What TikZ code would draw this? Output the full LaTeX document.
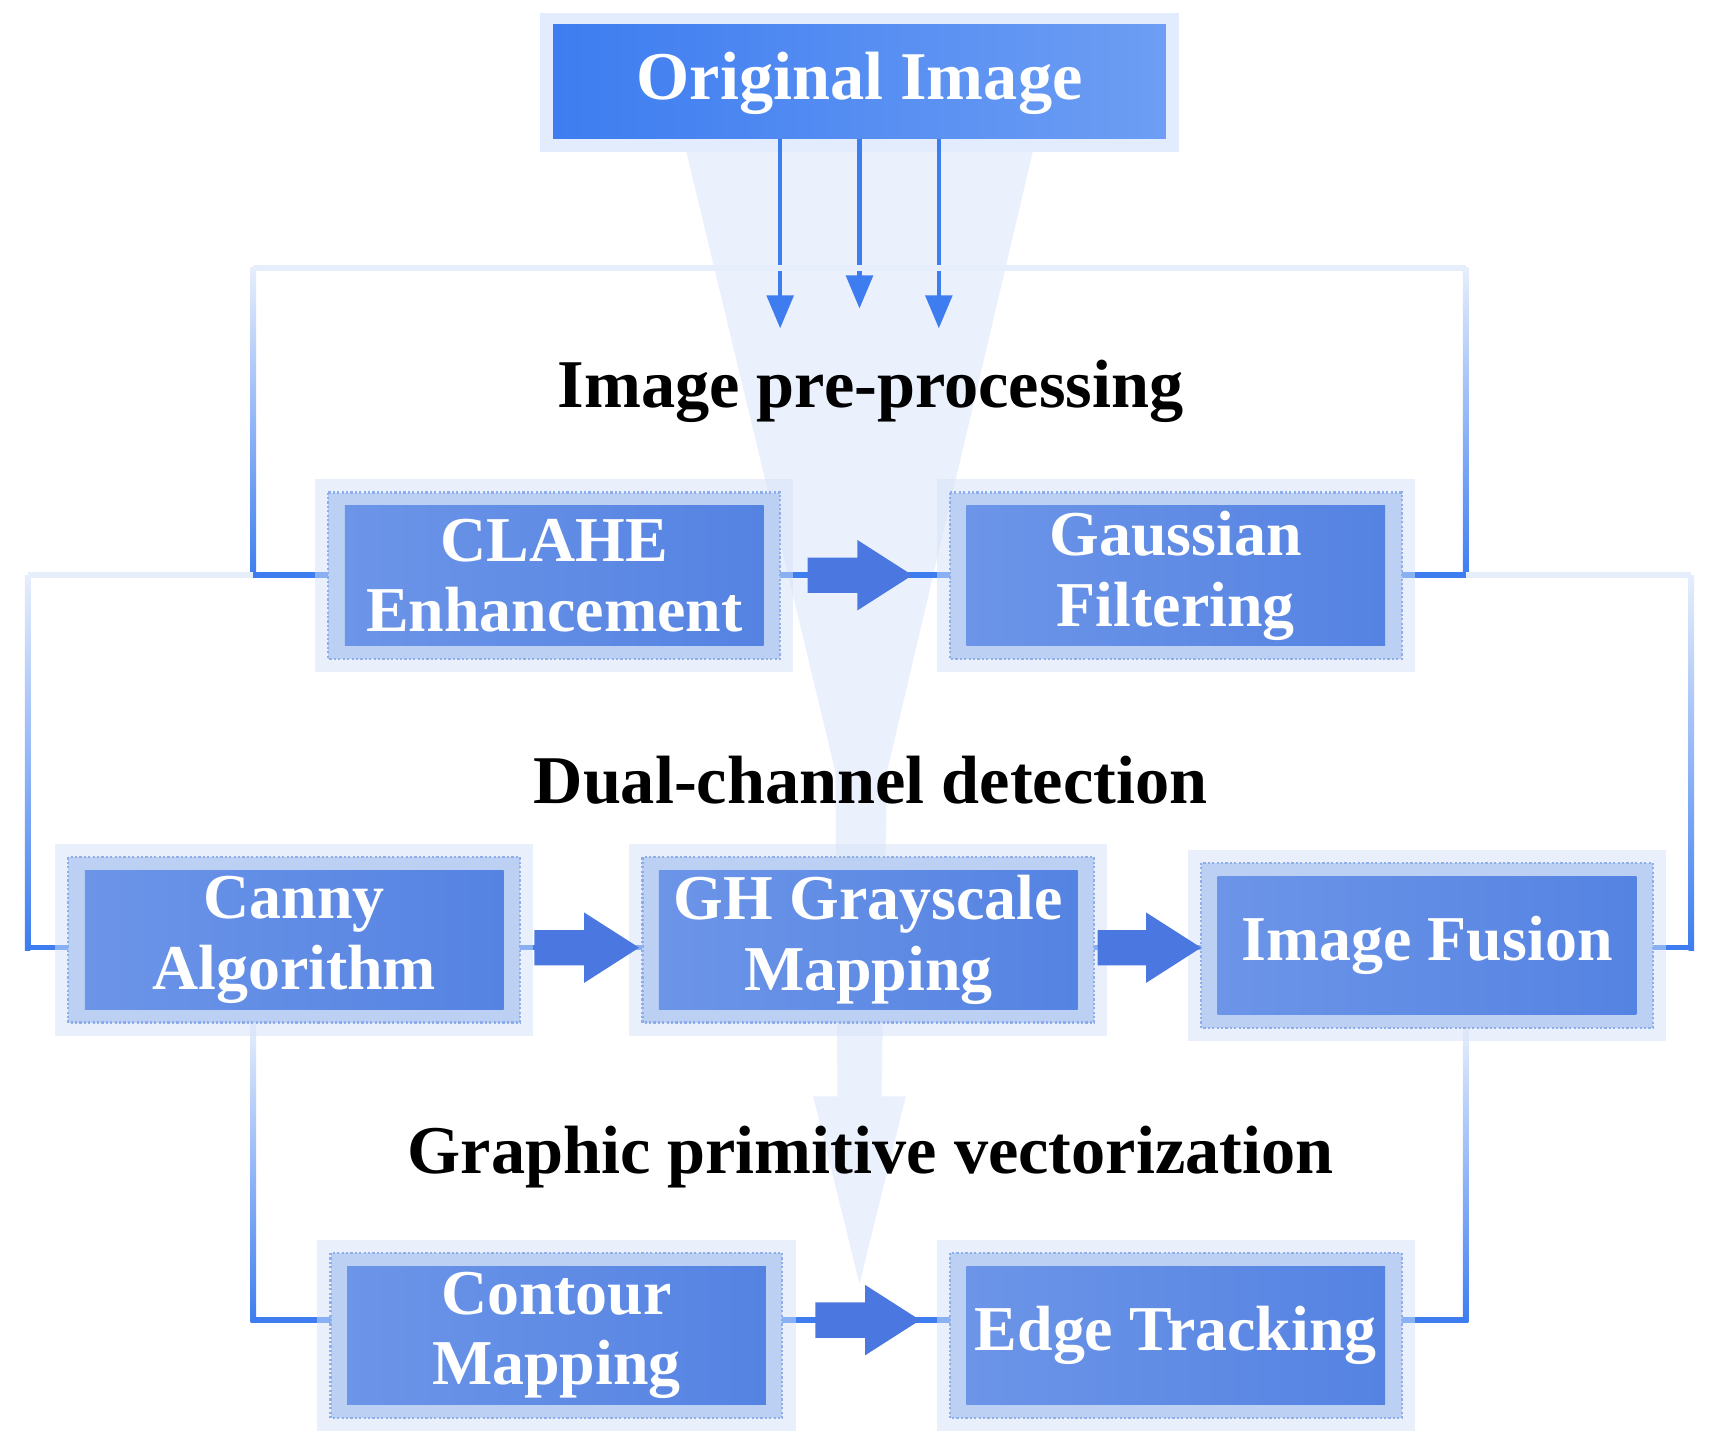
\documentclass[tikz,border=0pt]{standalone}
\usepackage{fontspec}
\setmainfont{Liberation Serif}
\usetikzlibrary{arrows.meta}
\definecolor{lnB}{HTML}{3D7DF0}
\definecolor{lnL}{HTML}{E6EEFC}
\definecolor{funC}{HTML}{EAF1FD}
\definecolor{boxL}{HTML}{6C95E8}
\definecolor{boxR}{HTML}{5583E2}
\definecolor{halo}{HTML}{BCD0F3}
\definecolor{haloD}{HTML}{8EAEEA}
\definecolor{arrB}{HTML}{4A78E0}
\tikzset{
  halobox/.style={draw=haloD,dotted,line width=2pt,fill=halo},
  proc/.style={text=white,font=\fontsize{58}{64}\selectfont\bfseries,align=center},
  ttl/.style={font=\fontsize{62}{68}\selectfont\bfseries,text=black},
  frame/.style={line width=5pt,lnB},
  frameL/.style={line width=5pt,lnL},
  thin/.style={line width=4pt,lnB,-{Triangle[length=30pt,width=24pt]}}
}
\newcommand{\pbox}[7]{% name x1 y1 x2 y2 text
  \fill[halo!60,opacity=0.5] (#2-12,#3-12) rectangle (#4+12,#5+12);
  \draw[halobox] (#2,#3) rectangle (#4,#5);
  \shade[left color=boxL,right color=boxR] (#2+15,#3+12) rectangle (#4-15,#5-12);
  \node[proc] (#1) at ({(#2+#4)/2},{(#3+#5)/2}) {#6};
  \coordinate (#1W) at (#2,{(#3+#5)/2});
  \coordinate (#1E) at (#4,{(#3+#5)/2});
}
\newcommand{\barrow}[3]{% x1 x2 y
  \fill[arrB] (#1,#3-16) -- (#2-50,#3-16) -- (#2-50,#3-32) -- (#2,#3) -- (#2-50,#3+32) -- (#2-50,#3+16) -- (#1,#3+16) -- cycle;
}
\begin{document}
\begin{tikzpicture}[x=1pt,y=-1pt]
\fill[white] (0,0) rectangle (1560,1320);
\useasboundingbox (0,0) rectangle (1560,1320);
% funnel
\fill[funC] (620,126) -- (940,126) -- (805,700) -- (800,995) -- (822,995) -- (780,1165) -- (738,995) -- (760,995) -- (758,700) -- cycle;
% original image
\fill[lnB!15] (490,12) rectangle (1070,138);
\shade[left color=lnB,right color=lnB!75!white] (502,22) rectangle (1058,126);
\node[font=\fontsize{62}{68}\selectfont\bfseries,text=white] (orig) at (780,76) {Original Image};
\coordinate (oa) at (708,126); \coordinate (ob) at (780,126); \coordinate (oc) at (852,126);
\coordinate (ta) at (708,298); \coordinate (tb) at (780,280); \coordinate (tc) at (852,298);
\draw[thin] (oa) -- (ta); \draw[thin] (ob) -- (tb); \draw[thin] (oc) -- (tc);
% frame 1
\draw[frameL] (230,243) -- (1330,243);
\shade[top color=lnL,bottom color=lnB] (227.5,243) rectangle (232.5,524.5);
\shade[top color=lnL,bottom color=lnB] (1327.5,243) rectangle (1332.5,524.5);
\draw[frame] (230,522) -- (298,522);
\draw[frame] (1272,522) -- (1330,522);
% frame 2
\draw[frameL] (25,522) -- (298,522);
\draw[frameL] (1272,522) -- (1535,522);
\shade[top color=lnL,bottom color=lnB] (22.5,522) rectangle (27.5,862.5);
\shade[top color=lnL,bottom color=lnB] (1532.5,522) rectangle (1537.5,862.5);
\draw[frame] (25,860) -- (62,860);
\draw[frame] (1500,860) -- (1535,860);
\draw[frame] (230,522) -- (298,522);
\draw[frame] (1272,522) -- (1330,522);
% frame 3
\shade[top color=lnL,bottom color=lnB] (227.5,928) rectangle (232.5,1200.5);
\shade[top color=lnL,bottom color=lnB] (1327.5,933) rectangle (1332.5,1200.5);
\draw[frame] (230,1198) -- (300,1198);
\draw[frame] (1272,1198) -- (1330,1198);
% connectors between boxes
\draw[line width=5pt,lnB] (708,522) -- (862,522);
\draw[line width=5pt,lnB] (472,860) -- (583,860);
\draw[line width=5pt,lnB] (993,860) -- (1090,860);
\draw[line width=5pt,lnB] (710,1198) -- (862,1198);
% titles
\node[ttl] (t1) at (790,355) {Image pre-processing};
\node[ttl] (t2) at (790,708) {Dual-channel detection};
\node[ttl] (t3) at (790,1050) {Graphic primitive vectorization};
% boxes
\pbox{clahe}{298}{447}{708}{598}{CLAHE\\Enhancement}{}
\pbox{gauss}{862}{447}{1272}{598}{Gaussian\\Filtering}{}
\pbox{canny}{62}{778}{472}{928}{Canny\\Algorithm}{}
\pbox{gh}{583}{778}{993}{928}{GH Grayscale\\Mapping}{}
\pbox{fus}{1090}{783}{1500}{933}{Image Fusion}{}
\pbox{cont}{300}{1137}{710}{1287}{Contour\\Mapping}{}
\pbox{edge}{862}{1137}{1272}{1287}{Edge Tracking}{}
% block arrows
\barrow{733}{828}{522}
\barrow{485}{580}{860}
\barrow{996}{1090}{860}
\barrow{740}{835}{1198}
\end{tikzpicture}
\end{document}
